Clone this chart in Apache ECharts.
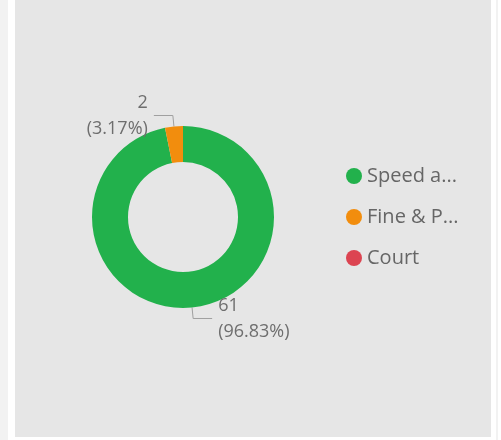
<html>
<head>
<meta charset="utf-8">
<script src="https://cdn.jsdelivr.net/npm/echarts@6/dist/echarts.min.js"></script>
</head>
<body style="margin:0;background:#ffffff">
    <div id="main" style="width:501px;height:440px;"></div>
</body>
</html>
<script>
    // categories and values
    var categories = ['Speed a...', 'Fine & P...', 'Court'];
    var counts = [61, 2, 0];
    var colors = ['#22b14c', '#f28d0d', '#dc4451'];

    var chartDom = document.getElementById('main');
    var myChart = echarts.init(chartDom);
    var option;

    var pieData = categories.map(function (name, i) {
        var item = { name: name, value: counts[i], itemStyle: { color: colors[i] } };
        // zero slices get no label in the original
        if (counts[i] === 0) {
            item.label = { show: false };
            item.labelLine = { show: false };
        }
        return item;
    });

    option = {
        animation: false,
        backgroundColor: '#ffffff',
        textStyle: { fontFamily: 'Open Sans' },
        graphic: [
            { type: 'rect', shape: { x: 0, y: 0, width: 8, height: 440 }, style: { fill: '#f2f2f2' }, z: -10 },
            { type: 'rect', shape: { x: 15, y: 0, width: 476, height: 437 }, style: { fill: '#e6e6e6' }, z: -10 },
            { type: 'rect', shape: { x: 496, y: 0, width: 2, height: 440 }, style: { fill: '#f2f2f2' }, z: -10 }
        ],
        legend: {
            orient: 'vertical',
            left: 341,
            top: 160,
            padding: 5,
            icon: 'circle',
            itemWidth: 16,
            itemHeight: 16,
            itemGap: 19,
            textStyle: {
                color: '#666666',
                fontSize: 20,
                fontFamily: 'Open Sans',
                lineHeight: 22
            },
            data: categories
        },
        series: [
            {
                type: 'pie',
                center: [183, 217],
                radius: [55, 91],
                startAngle: 90,
                clockwise: true,
                avoidLabelOverlap: false,
                label: {
                    show: true,
                    position: 'outside',
                    formatter: '{c}\n({d}%)',
                    color: '#6e6e6e',
                    fontSize: 18,
                    lineHeight: 26,
                    fontFamily: 'Open Sans',
                    distanceToLabelLine: 6
                },
                labelLine: {
                    show: true,
                    length: 11,
                    length2: 19,
                    lineStyle: { color: '#a0a0a0', width: 1 }
                },
                emphasis: { disabled: true },
                data: pieData
            }
        ]
    };

    option && myChart.setOption(option);
</script>
